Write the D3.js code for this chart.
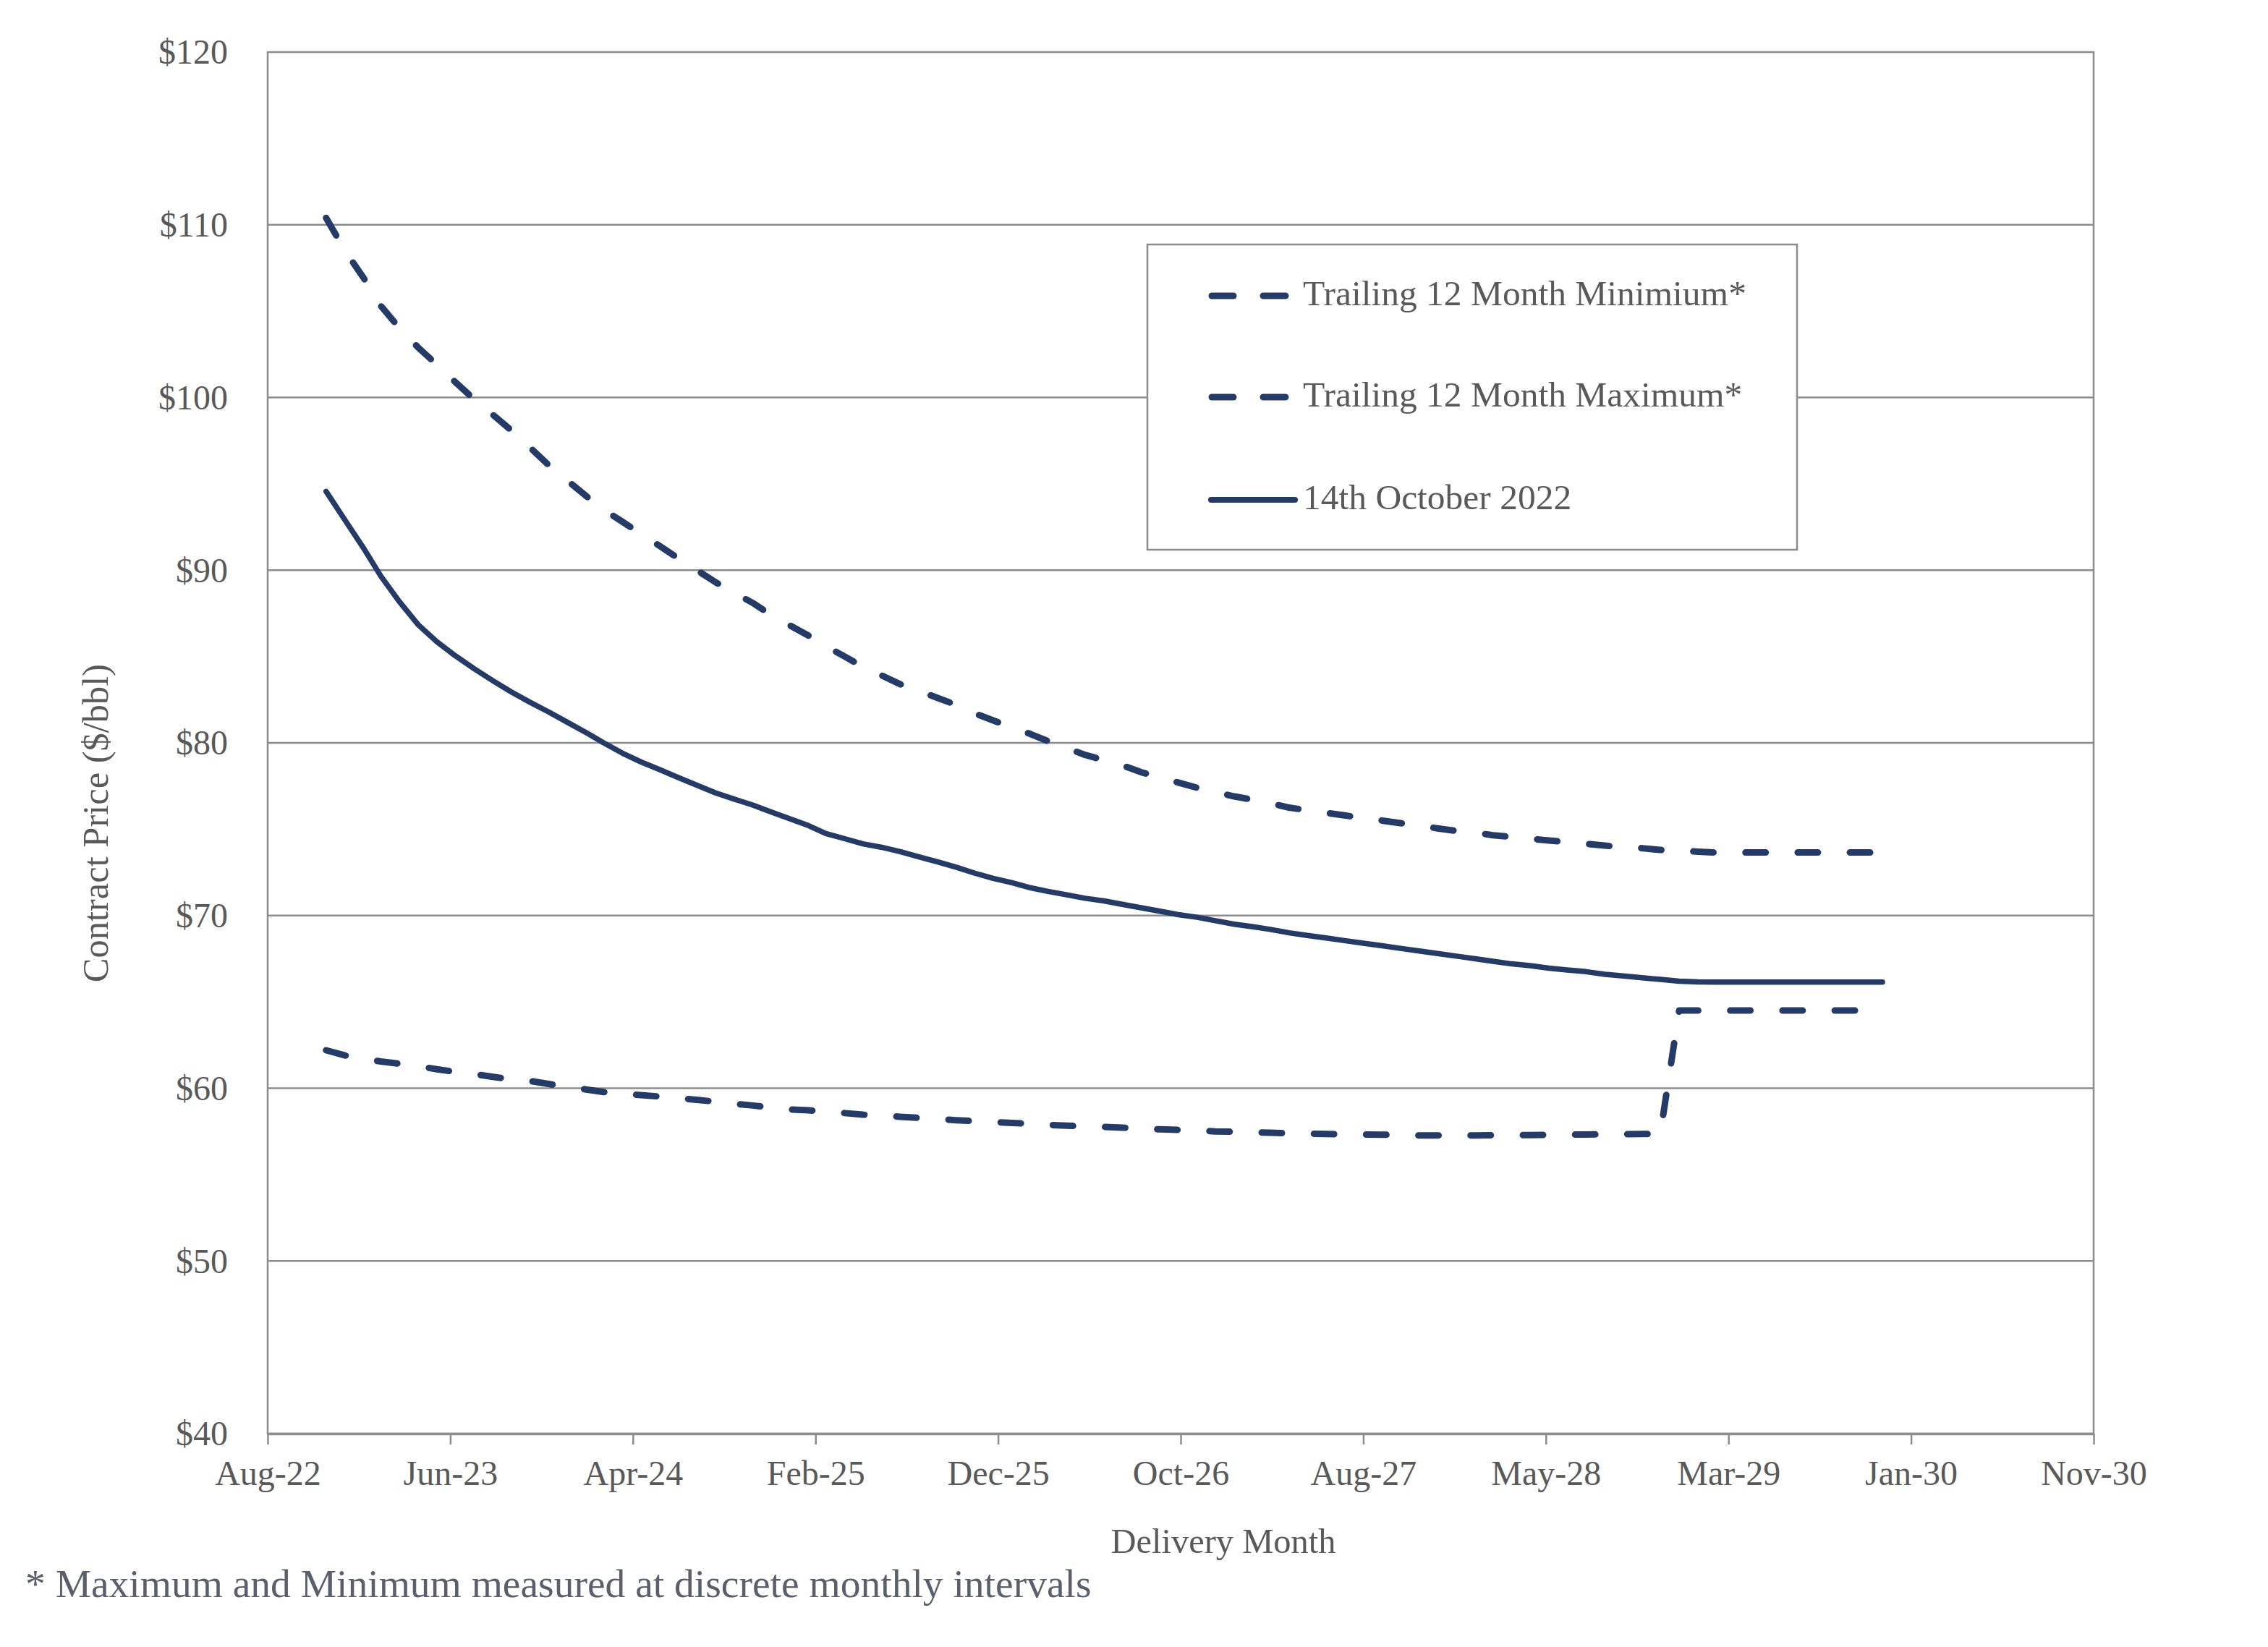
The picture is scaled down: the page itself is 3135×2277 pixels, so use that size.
<!DOCTYPE html>
<html>
<head>
<meta charset="utf-8">
<script src="https://cdn.jsdelivr.net/npm/d3@7"></script>
<style>
  html, body { margin: 0; padding: 0; background: #ffffff; }
  svg { display: block; }
  text { font-family: "Liberation Serif", "DejaVu Serif", serif; }
</style>
</head>
<body>
<svg id="chart" width="3135" height="2277"></svg>
<script>
// ---------- DATA ----------
const months = [
  "Dec-22",
  "Jan-23","Feb-23","Mar-23","Apr-23","May-23","Jun-23","Jul-23","Aug-23","Sep-23","Oct-23","Nov-23","Dec-23",
  "Jan-24","Feb-24","Mar-24","Apr-24","May-24","Jun-24","Jul-24","Aug-24","Sep-24","Oct-24","Nov-24","Dec-24",
  "Jan-25","Feb-25","Mar-25","Apr-25","May-25","Jun-25","Jul-25","Aug-25","Sep-25","Oct-25","Nov-25","Dec-25",
  "Jan-26","Feb-26","Mar-26","Apr-26","May-26","Jun-26","Jul-26","Aug-26","Sep-26","Oct-26","Nov-26","Dec-26",
  "Jan-27","Feb-27","Mar-27","Apr-27","May-27","Jun-27","Jul-27","Aug-27","Sep-27","Oct-27","Nov-27","Dec-27",
  "Jan-28","Feb-28","Mar-28","Apr-28","May-28","Jun-28","Jul-28","Aug-28","Sep-28","Oct-28","Nov-28","Dec-28",
  "Jan-29","Feb-29","Mar-29","Apr-29","May-29","Jun-29","Jul-29","Aug-29","Sep-29","Oct-29","Nov-29","Dec-29"
];

const minVals = [
  62.2, 61.9, 61.7, 61.55, 61.42, 61.28, 61.1, 60.95, 60.82, 60.66,
  60.52, 60.42, 60.25, 60.08, 59.93, 59.78, 59.68, 59.6, 59.52, 59.43,
  59.33, 59.22, 59.1, 59.0, 58.88, 58.77, 58.72, 58.65, 58.56, 58.47,
  58.42, 58.35, 58.28, 58.22, 58.15, 58.1, 58.04, 57.99, 57.94, 57.88,
  57.83, 57.8, 57.76, 57.72, 57.67, 57.62, 57.59, 57.55, 57.5, 57.48,
  57.45, 57.42, 57.4, 57.37, 57.35, 57.33, 57.32, 57.31, 57.29, 57.27,
  57.27, 57.27, 57.27, 57.28, 57.28, 57.29, 57.3, 57.31, 57.32, 57.33,
  57.34, 57.35, 57.35, 64.5, 64.5, 64.5, 64.5, 64.5, 64.5, 64.5,
  64.5, 64.5, 64.5, 64.5, 64.5
];

const maxVals = [
  110.4, 108.5, 106.9, 105.3, 104.0, 102.9, 101.9, 100.9, 99.9, 99.0,
  98.1, 97.1, 96.1, 95.2, 94.3, 93.5, 92.8, 92.1, 91.4, 90.7,
  90.0, 89.3, 88.7, 88.1, 87.4, 86.8, 86.2, 85.6, 85.0, 84.4,
  83.9, 83.4, 83.0, 82.6, 82.2, 81.7, 81.3, 80.9, 80.5, 80.1,
  79.7, 79.3, 79.0, 78.7, 78.3, 78.0, 77.7, 77.4, 77.15, 76.9,
  76.7, 76.5, 76.25, 76.1, 75.95, 75.8, 75.65, 75.5, 75.35, 75.2,
  75.05, 74.9, 74.8, 74.65, 74.55, 74.45, 74.35, 74.25, 74.15, 74.05,
  73.95, 73.9, 73.8, 73.75, 73.7, 73.65, 73.65, 73.65, 73.65, 73.65,
  73.65, 73.65, 73.65, 73.65, 73.65
];

const curveVals = [
  94.56, 92.9, 91.25, 89.65, 88.15, 86.85, 85.85, 85.05, 84.3, 83.6,
  82.95, 82.35, 81.8, 81.2, 80.6, 80.0, 79.4, 78.9, 78.45, 78.0,
  77.55, 77.1, 76.75, 76.4, 76.0, 75.6, 75.2, 74.75, 74.45, 74.15,
  73.95, 73.7, 73.4, 73.1, 72.8, 72.45, 72.15, 71.9, 71.6, 71.4,
  71.2, 71.0, 70.85, 70.65, 70.45, 70.25, 70.05, 69.9, 69.7, 69.5,
  69.35, 69.2, 69.0, 68.85, 68.7, 68.55, 68.4, 68.25, 68.1, 67.95,
  67.8, 67.65, 67.5, 67.35, 67.2, 67.1, 66.95, 66.85, 66.75, 66.6,
  66.5, 66.4, 66.3, 66.2, 66.16, 66.15, 66.15, 66.15, 66.15, 66.15,
  66.15, 66.15, 66.15, 66.15, 66.15
];

const seriesNames = ["Trailing 12 Month Minimium*", "Trailing 12 Month Maximum*", "14th October 2022"];

const yTicks = [40, 50, 60, 70, 80, 90, 100, 110, 120];
const xDomain = ["2022-08-27", "2030-11-13"];
const xTickDates = ["2022-08-27","2023-06-23","2024-04-18","2025-02-12","2025-12-09","2026-10-05",
                    "2027-08-01","2028-05-27","2029-03-23","2030-01-17","2030-11-13"];
const xTickLabels = ["Aug-22","Jun-23","Apr-24","Feb-25","Dec-25","Oct-26",
                     "Aug-27","May-28","Mar-29","Jan-30","Nov-30"];

const yTitle = "Contract Price ($/bbl)";
const xTitle = "Delivery Month";
const footnote = "* Maximum and Minimum measured at discrete monthly intervals";

// ---------- LAYOUT ----------
const L = 370, R = 2894, T = 72, B = 1982;
const lineColor = "#243a67";
const gridColor = "#8c8c8c";
const textColor = "#595959";

const parseMonth = d3.utcParse("%b-%y");
const parseDay = d3.utcParse("%Y-%m-%d");

const x = d3.scaleUtc().domain(xDomain.map(parseDay)).range([L, R]);
const y = d3.scaleLinear().domain([40, 120]).range([B, T]);

const svg = d3.select("#chart");
svg.append("rect").attr("width", 3135).attr("height", 2277).attr("fill", "#fff");

// gridlines
svg.append("g").selectAll("line")
  .data(yTicks.filter(v => v > 40 && v < 120))
  .join("line")
  .attr("x1", L).attr("x2", R)
  .attr("y1", d => y(d)).attr("y2", d => y(d))
  .attr("stroke", gridColor).attr("stroke-width", 2.5);

// plot border
svg.append("rect")
  .attr("x", L).attr("y", T).attr("width", R - L).attr("height", B - T)
  .attr("fill", "none").attr("stroke", gridColor).attr("stroke-width", 2.5);

// x axis
const xAxis = d3.axisBottom(x)
  .tickValues(xTickDates.map(parseDay))
  .tickFormat((d, i) => xTickLabels[i])
  .tickSize(15).tickSizeOuter(0);
const gx = svg.append("g").attr("transform", `translate(0,${B})`).call(xAxis);
gx.select(".domain").attr("stroke", gridColor).attr("stroke-width", 3.5);
gx.selectAll(".tick line").attr("stroke", gridColor).attr("stroke-width", 2.5);
gx.selectAll(".tick text")
  .attr("y", 71).attr("dy", 0)
  .attr("fill", textColor).attr("font-size", 48)
  .attr("font-family", "Liberation Serif, DejaVu Serif, serif");

// y axis
const yAxis = d3.axisLeft(y).tickValues(yTicks).tickFormat(d => "$" + d).tickSize(0).tickPadding(55);
const gy = svg.append("g").attr("transform", `translate(${L},0)`).call(yAxis);
gy.select(".domain").remove();
gy.selectAll(".tick text")
  .attr("dy", "0.33em")
  .attr("fill", textColor).attr("font-size", 48)
  .attr("font-family", "Liberation Serif, DejaVu Serif, serif");

// axis titles
svg.append("text")
  .attr("transform", "translate(132,1138) rotate(-90)")
  .attr("text-anchor", "middle").attr("dominant-baseline", "central")
  .attr("fill", textColor).attr("font-size", 50.5)
  .text(yTitle);

svg.append("text")
  .attr("x", 1691).attr("y", 2147).attr("text-anchor", "middle")
  .attr("fill", textColor).attr("font-size", 48.5)
  .text(xTitle);

// lines
const months_d = months.map(parseMonth);
const mk = vals => vals.map((v, i) => ({ date: months_d[i], v }));
const line = d3.line().x(d => x(d.date)).y(d => y(d.v));

const DASH = 28, PERIOD = 72;
const series = [
  { name: seriesNames[0], data: mk(minVals), dashed: true, endGap: 38, width: 9 },
  { name: seriesNames[1], data: mk(maxVals), dashed: true, endGap: 17, width: 9 },
  { name: seriesNames[2], data: mk(curveVals), dashed: false, width: 7.5 }
];

const paths = svg.append("g").selectAll("path")
  .data(series)
  .join("path")
  .attr("d", d => line(d.data))
  .attr("fill", "none")
  .attr("stroke", lineColor)
  .attr("stroke-width", d => d.width)
  .attr("stroke-linecap", "round")
  .attr("stroke-linejoin", "round");

// dash pattern: starts with a dash at the line start, and lands the final dash where the reference's does
paths.filter(d => d.dashed).each(function (d) {
  const len = this.getTotalLength();
  const span = len - d.endGap - DASH;
  const n = Math.max(1, Math.round(span / PERIOD));
  const p = span / n;
  d3.select(this).attr("stroke-dasharray", `${DASH},${p - DASH}`);
});

// legend
const lg = svg.append("g");
lg.append("rect")
  .attr("x", 1586).attr("y", 338).attr("width", 898).attr("height", 422)
  .attr("fill", "#fff").attr("stroke", gridColor).attr("stroke-width", 2.5);
const legendRows = [409, 549, 691];
series.forEach((s, i) => {
  const yy = legendRows[i];
  if (s.dashed) {
    lg.append("line").attr("x1", 1675).attr("x2", 1705).attr("y1", yy).attr("y2", yy)
      .attr("stroke", lineColor).attr("stroke-width", 9).attr("stroke-linecap", "round");
    lg.append("line").attr("x1", 1746).attr("x2", 1777).attr("y1", yy).attr("y2", yy)
      .attr("stroke", lineColor).attr("stroke-width", 9).attr("stroke-linecap", "round");
  } else {
    lg.append("line").attr("x1", 1674).attr("x2", 1790).attr("y1", yy).attr("y2", yy)
      .attr("stroke", lineColor).attr("stroke-width", 8).attr("stroke-linecap", "round");
  }
  lg.append("text").attr("x", 1801).attr("y", yy + 13)
    .attr("fill", textColor).attr("font-size", 49.5)
    .text(s.name);
});

// footnote
svg.append("text")
  .attr("x", 35).attr("y", 2208)
  .attr("fill", "#5a5f6b").attr("font-size", 55.5)
  .text(footnote);
</script>
</body>
</html>
